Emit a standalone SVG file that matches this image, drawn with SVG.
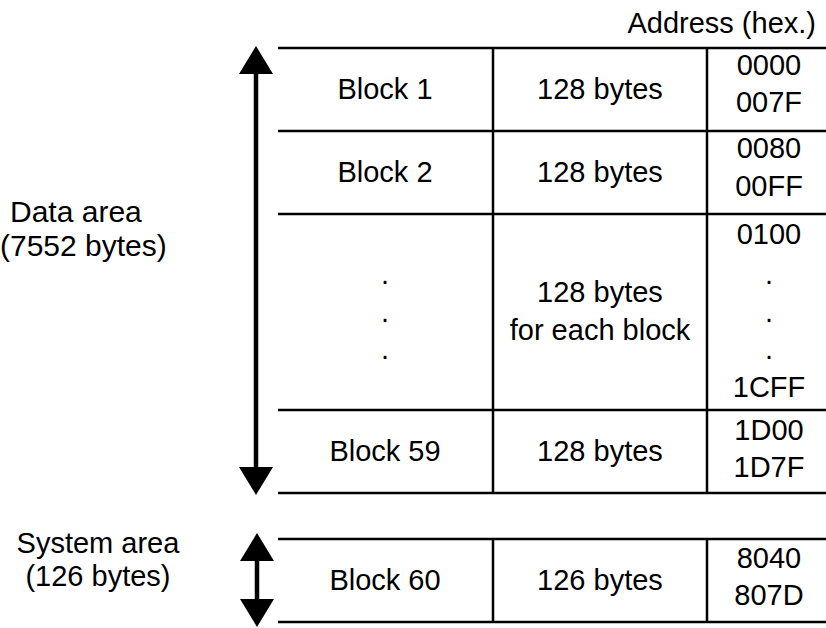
<svg xmlns="http://www.w3.org/2000/svg" width="826" height="628" viewBox="0 0 826 628">
<style>
  text { font-family: "Liberation Sans", Arial, sans-serif; font-size: 29px; fill: #000; }
  .c { text-anchor: middle; }
  .lbl { font-size: 30px; }
  .grid { stroke: #000; stroke-width: 2.5; fill: none; }
  .arrow { stroke: #000; stroke-width: 4.5; fill: none; marker-start: url(#head); marker-end: url(#head); }
</style>
<defs>
  <marker id="head" viewBox="0 0 28 34" markerWidth="28" markerHeight="34" refX="0" refY="17" orient="auto-start-reverse" markerUnits="userSpaceOnUse">
    <path d="M0,0 L28,17 L0,34 Z" fill="#000"/>
  </marker>
</defs>
<rect width="826" height="628" fill="#fff"/>

<g id="header">
  <text x="816" y="33" text-anchor="end">Address (hex.)</text>
</g>

<g id="table-lines">
  <path class="grid" d="M278,48H826 M278,131H826 M278,214H826 M278,410H826 M278,493H826 M493,47V494 M707,47V494"/>
  <path class="grid" d="M278,539H826 M278,622H826 M493,538V623 M707,538V623"/>
</g>

<g id="block1">
  <text class="c" x="385" y="99">Block 1</text>
  <text class="c" x="600" y="99">128 bytes</text>
  <text class="c" x="769" y="75">0000</text>
  <text class="c" x="769" y="112">007F</text>
</g>

<g id="block2">
  <text class="c" x="385" y="182">Block 2</text>
  <text class="c" x="600" y="182">128 bytes</text>
  <text class="c" x="769" y="158">0080</text>
  <text class="c" x="769" y="196">00FF</text>
</g>

<g id="blocks-middle">
  <text class="c" x="385" y="284">.</text>
  <text class="c" x="385" y="322">.</text>
  <text class="c" x="385" y="359">.</text>
  <text class="c" x="600" y="302">128 bytes</text>
  <text class="c" x="600" y="340">for each block</text>
  <text class="c" x="769" y="244">0100</text>
  <text class="c" x="769" y="284">.</text>
  <text class="c" x="769" y="322">.</text>
  <text class="c" x="769" y="359">.</text>
  <text class="c" x="769" y="397">1CFF</text>
</g>

<g id="block59">
  <text class="c" x="385" y="461">Block 59</text>
  <text class="c" x="600" y="461">128 bytes</text>
  <text class="c" x="769" y="440">1D00</text>
  <text class="c" x="769" y="477">1D7F</text>
</g>

<g id="block60">
  <text class="c" x="385" y="590">Block 60</text>
  <text class="c" x="600" y="590">126 bytes</text>
  <text class="c" x="769" y="568">8040</text>
  <text class="c" x="769" y="605">807D</text>
</g>

<g id="data-area-label">
  <text class="lbl" x="10" y="222">Data area</text>
  <text class="lbl" x="0" y="256">(7552 bytes)</text>
</g>

<g id="system-area-label">
  <text class="c" x="98" y="553">System area</text>
  <text class="c" x="98" y="586">(126 bytes)</text>
</g>

<g id="connectors">
  <line class="arrow" x1="256" y1="74" x2="256" y2="467"/>
  <line class="arrow" x1="257" y1="561" x2="257" y2="599"/>
</g>
</svg>
